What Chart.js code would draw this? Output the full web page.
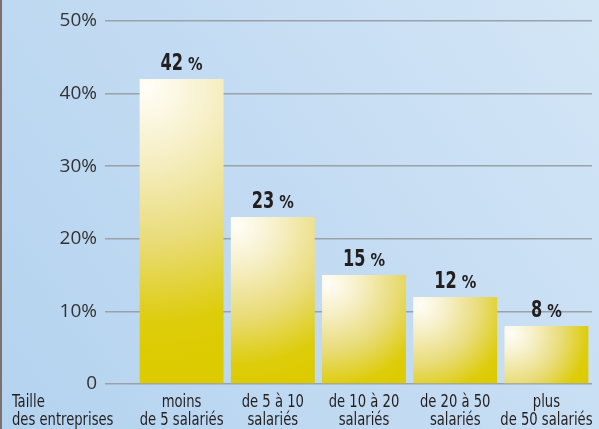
<!DOCTYPE html>
<html>
<head>
<meta charset="utf-8">
<script src="https://cdn.jsdelivr.net/npm/chart.js@4/dist/chart.umd.min.js"></script>
<style>
  html, body { margin: 0; padding: 0; background: #c4dcf2; }
  canvas { display: block; }
</style>
</head>
<body>
<canvas id="myChart" width="599" height="429"></canvas>
<script>
const categories = [
  ["moins", "de 5 salariés"],
  ["de 5 à 10", "salariés"],
  ["de 10 à 20", "salariés"],
  ["de 20 à 50", "salariés"],
  ["plus", "de 50 salariés"],
];
const shares = [42, 23, 15, 12, 8];
const shareLabels = ["42", "23", "15", "12", "8"];
const yTicks = [0, 10, 20, 30, 40, 50];
const axisTitle = ["Taille", "des entreprises"];

const condensed = "'DejaVu Sans Condensed', 'DejaVu Sans', sans-serif";
const barPct = 0.92;

// squeezed text, the original uses a condensed grotesque
function narrowText(ctx, text, x, y, align, sx) {
  ctx.save();
  ctx.translate(x, y);
  ctx.scale(sx, 1);
  ctx.textAlign = align;
  ctx.fillText(text, 0, 0);
  ctx.restore();
}

// background + left border
const backdrop = {
  id: "backdrop",
  beforeDraw(chart) {
    const ctx = chart.ctx;
    const g = ctx.createLinearGradient(0, chart.height, chart.width, 0);
    g.addColorStop(0, "#b4d3ef");
    g.addColorStop(0.6, "#c6ddf3");
    g.addColorStop(1, "#d3e6f6");
    ctx.save();
    ctx.fillStyle = g;
    ctx.fillRect(0, 0, chart.width, chart.height);
    ctx.fillStyle = "#7b6f70";
    ctx.fillRect(0, 0, 2, chart.height);
    ctx.restore();
  },
};

// value labels, category labels and axis title
const labels = {
  id: "labels",
  afterDatasetsDraw(chart) {
    const ctx = chart.ctx;
    const meta = chart.getDatasetMeta(0);
    const xs = chart.scales.x;
    ctx.save();
    ctx.fillStyle = "#231f20";
    ctx.textBaseline = "alphabetic";
    const sx = 0.78;
    meta.data.forEach((bar, i) => {
      const num = shareLabels[i];
      ctx.font = "bold 23px " + condensed;
      const wNum = ctx.measureText(num).width * sx;
      ctx.font = "bold 17px " + condensed;
      const wPct = ctx.measureText("%").width * 0.95;
      const gap = 5;
      const x = bar.x - (wNum + gap + wPct) / 2;
      const y = bar.y - 9;
      ctx.font = "bold 23px " + condensed;
      narrowText(ctx, num, x, y, "left", sx);
      ctx.font = "bold 17px " + condensed;
      narrowText(ctx, "%", x + wNum + gap, y, "left", 0.95);
    });

    ctx.font = "17px " + condensed;
    ctx.textBaseline = "middle";
    categories.forEach((lines, i) => {
      const cx = xs.getPixelForValue(i);
      lines.forEach((t, k) => narrowText(ctx, t, cx, 403 + k * 18, "center", 0.86));
    });
    axisTitle.forEach((t, k) => narrowText(ctx, t, 12, 403 + k * 18, "left", 0.86));
    ctx.restore();
  },
};

function barFill(c) {
  const ch = c.chart;
  const a = ch.chartArea;
  if (!a || !ch.scales.x) return "#ddcc00";
  const xs = ch.scales.x, ys = ch.scales.y;
  const w = (a.right - a.left) / categories.length * barPct;
  const x0 = xs.getPixelForValue(c.dataIndex) - w / 2;
  const top = ys.getPixelForValue(c.raw);
  const h = ys.getPixelForValue(0) - top;
  const r = 0.88 * Math.hypot(w, h);
  const g = ch.ctx.createRadialGradient(x0 + 7, top + 8, 0, x0 + 7, top + 8, r);
  g.addColorStop(0, "#fffef8");
  g.addColorStop(0.25, "#f6efc6");
  g.addColorStop(0.55, "#e9dc7a");
  g.addColorStop(0.85, "#ddcc0a");
  g.addColorStop(1, "#dccb00");
  return g;
}

new Chart(document.getElementById("myChart"), {
  type: "bar",
  data: {
    labels: categories,
    datasets: [{
      data: shares,
      backgroundColor: barFill,
      borderWidth: 0,
      barPercentage: barPct,
      categoryPercentage: 1,
    }],
  },
  options: {
    responsive: false,
    animation: false,
    layout: { padding: { top: 21, right: 7, left: 0, bottom: 0 } },
    plugins: { legend: { display: false }, tooltip: { enabled: false } },
    scales: {
      x: {
        grid: { display: false },
        border: { display: false },
        ticks: { display: false },
        afterFit(scale) { scale.height = 45; },
      },
      y: {
        min: 0,
        max: 50,
        afterFit(scale) { scale.width = 136; },
        afterBuildTicks(scale) { scale.ticks = yTicks.map((v) => ({ value: v })); },
        grid: { color: "#9aa1a8", lineWidth: 1.5, tickLength: 31, drawTicks: true },
        border: { display: false },
        ticks: {
          color: "#333333",
          padding: 8,
          font: { family: "'Open Sans', sans-serif", size: 19 },
          callback: (v) => (v === 0 ? "0" : v + "%"),
        },
      },
    },
  },
  plugins: [backdrop, labels],
});
</script>
</body>
</html>
